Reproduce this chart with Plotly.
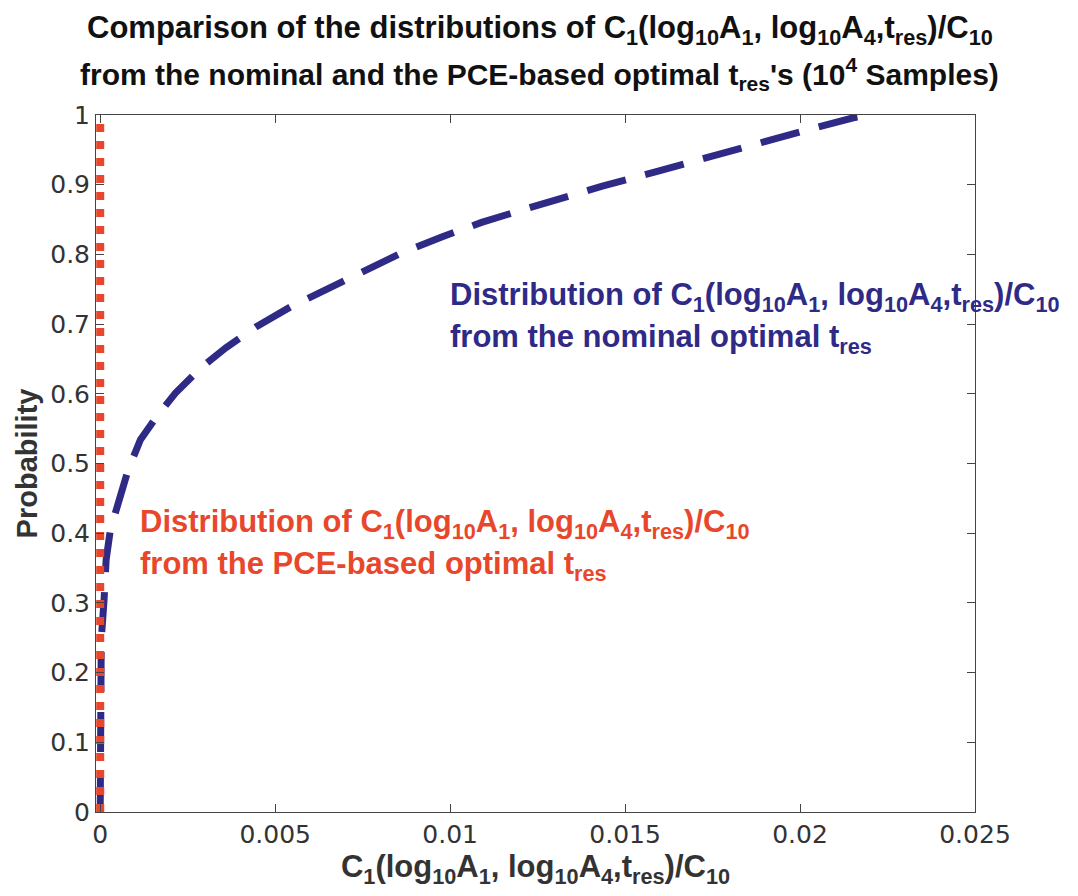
import plotly.graph_objects as go

nominal_x = [0.0, 0.0, 0.00003, 0.00011, 0.00017, 0.00029, 0.00052, 0.0008, 0.00115,
             0.00158, 0.00215, 0.00287, 0.00359, 0.00445, 0.00545, 0.00646, 0.00746,
             0.00861, 0.00976, 0.0109, 0.01214, 0.0132, 0.01435, 0.01584, 0.01722,
             0.01865, 0.02009, 0.02152, 0.02204]
nominal_p = [0.0, 0.161, 0.247, 0.304, 0.362, 0.405, 0.448, 0.491, 0.534,
             0.565, 0.601, 0.637, 0.666, 0.696, 0.725, 0.75, 0.775,
             0.802, 0.825, 0.846, 0.865, 0.881, 0.898, 0.918, 0.938,
             0.958, 0.977, 0.996, 1.0]
pce_x = [0.0, 0.0]
pce_p = [0.0, 1.0]

x_ticks = [0, 0.005, 0.01, 0.015, 0.02, 0.025]
x_tick_labels = ["0", "0.005", "0.01", "0.015", "0.02", "0.025"]
y_ticks = [0, 0.1, 0.2, 0.3, 0.4, 0.5, 0.6, 0.7, 0.8, 0.9, 1]
y_tick_labels = ["0", "0.1", "0.2", "0.3", "0.4", "0.5", "0.6", "0.7", "0.8", "0.9", "1"]

BLUE = "#2f2a86"
RED = "#e8472b"
FONT = "Liberation Sans, Arial, sans-serif"
TICKFONT = "DejaVu Sans, sans-serif"
Q = "C<sub>1</sub>(log<sub>10</sub>A<sub>1</sub>, log<sub>10</sub>A<sub>4</sub>,t<sub>res</sub>)/C<sub>10</sub>"

PLOT_TOP, PLOT_BOTTOM = 115, 812


def py(pix):
    return (PLOT_BOTTOM - pix) / (PLOT_BOTTOM - PLOT_TOP)


fig = go.Figure()
fig.add_trace(go.Scatter(x=nominal_x, y=nominal_p, mode="lines",
                         line=dict(color=BLUE, width=7, dash="40px,20px"),
                         showlegend=False))
fig.add_trace(go.Scatter(x=pce_x, y=pce_p, mode="lines",
                         line=dict(color=RED, width=8, dash="8px,9px"),
                         showlegend=False))

axis_common = dict(showgrid=False, zeroline=False, showline=True, linecolor="#444444",
                   linewidth=1, mirror="ticks", ticks="inside", ticklen=8,
                   tickcolor="#444444",
                   tickfont=dict(family=TICKFONT, size=25, color="#333333"))


def label(text, x, ypix, color, size=31, xanchor="left"):
    return dict(text="<b>" + text + "</b>", xref="paper", yref="paper", x=x, y=py(ypix),
                xanchor=xanchor, yanchor="middle", align="left", showarrow=False,
                font=dict(family=FONT, size=size, color=color))


fig.update_layout(
    width=1078, height=896,
    paper_bgcolor="white", plot_bgcolor="white",
    margin=dict(l=96, r=103, t=115, b=84),
    xaxis=dict(range=[-0.00012, 0.025], tickvals=x_ticks, ticktext=x_tick_labels,
               title=dict(text="<b>" + Q + "</b>", standoff=2,
                          font=dict(family=FONT, size=31, color="#333333")),
               **axis_common),
    yaxis=dict(range=[0, 1], tickvals=y_ticks, ticktext=y_tick_labels,
               title=dict(text="<b>Probability</b>", standoff=4,
                          font=dict(family=FONT, size=29, color="#333333")),
               **axis_common),
    annotations=[
        label("Comparison of the distributions of " + Q, 0.505, 30, "#111111", 31, "center"),
        label("from the nominal and the PCE-based optimal t<sub>res</sub>'s (10<sup>4</sup> Samples)",
              0.505, 74, "#111111", 30, "center"),
        label("Distribution of " + Q, 0.401, 297, BLUE),
        label("from the nominal optimal t<sub>res</sub>", 0.401, 339, BLUE),
        label("Distribution of " + Q, 0.048, 524, RED),
        label("from the PCE-based optimal t<sub>res</sub>", 0.048, 566, RED),
    ],
)

fig.write_html("out.html")
